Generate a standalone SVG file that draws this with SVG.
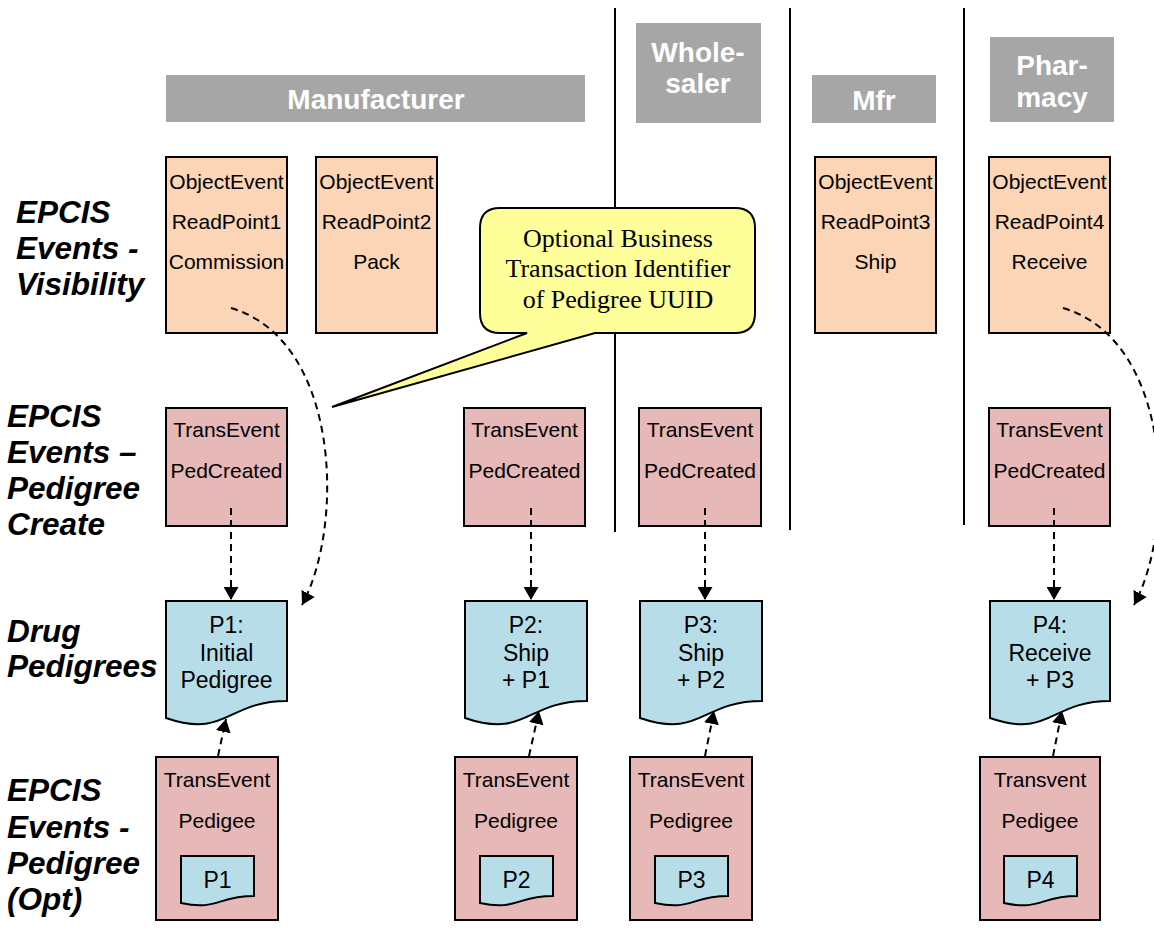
<svg xmlns="http://www.w3.org/2000/svg" width="1154" height="933" viewBox="0 0 1154 933">
<style>
.hdr{fill:#A6A6A6}
.ht{font-family:"Liberation Sans",Arial,sans-serif;font-weight:bold;font-size:28px;fill:#fff;text-anchor:middle}
.lbl{font-family:"Liberation Sans",Arial,sans-serif;font-weight:bold;font-style:italic;font-size:31.5px;fill:#000}
.obj{fill:#FBD5B5;stroke:#000;stroke-width:2}
.tr{fill:#E6B8B7;stroke:#000;stroke-width:2}
.doc{fill:#B7DEE8;stroke:#000;stroke-width:2}
.t{font-family:"Liberation Sans",Arial,sans-serif;font-size:21px;fill:#000;text-anchor:middle}
.dt{font-family:"Liberation Sans",Arial,sans-serif;font-size:23px;fill:#000;text-anchor:middle}
.sep{stroke:#000;stroke-width:2}
.con{fill:none;stroke:#000;stroke-width:2;stroke-dasharray:7,5}
.ct{font-family:"Liberation Serif","Times New Roman",serif;font-size:26px;fill:#000;text-anchor:middle}
</style>
<defs>
<marker id="ah" markerUnits="userSpaceOnUse" viewBox="0 0 13 15" markerWidth="13" markerHeight="15" refX="13" refY="7.5" orient="auto">
<path d="M0,0 L13,7.5 L0,15 Z" fill="#000"/>
</marker>
</defs>
<rect width="1154" height="933" fill="#fff"/>

<g id="separators">
<line class="sep" x1="615" y1="8" x2="615" y2="532"/>
<line class="sep" x1="790" y1="8" x2="790" y2="530"/>
<line class="sep" x1="964" y1="8" x2="964" y2="525"/>
</g>

<g id="headers">
<g id="hdr-manufacturer"><rect class="hdr" x="166" y="75" width="419" height="47"/><text class="ht" x="376" y="109">Manufacturer</text></g>
<g id="hdr-wholesaler"><rect class="hdr" x="636" y="23" width="125" height="100"/><text class="ht" x="698" y="62">Whole-</text><text class="ht" x="698" y="93">saler</text></g>
<g id="hdr-mfr"><rect class="hdr" x="812" y="75" width="124" height="48"/><text class="ht" x="874" y="110">Mfr</text></g>
<g id="hdr-pharmacy"><rect class="hdr" x="990" y="37" width="124" height="85"/><text class="ht" x="1052" y="75">Phar-</text><text class="ht" x="1052" y="107">macy</text></g>
</g>

<g id="row-labels">
<text class="lbl" x="16" y="223">EPCIS</text>
<text class="lbl" x="16" y="259">Events -</text>
<text class="lbl" x="16" y="295">Visibility</text>
<text class="lbl" x="7" y="427">EPCIS</text>
<text class="lbl" x="7" y="463">Events –</text>
<text class="lbl" x="7" y="499">Pedigree</text>
<text class="lbl" x="7" y="535">Create</text>
<text class="lbl" x="7" y="642">Drug</text>
<text class="lbl" x="7" y="677">Pedigrees</text>
<text class="lbl" x="7" y="801">EPCIS</text>
<text class="lbl" x="7" y="838">Events -</text>
<text class="lbl" x="7" y="874">Pedigree</text>
<text class="lbl" x="7" y="910">(Opt)</text>
</g>

<g id="obj1"><rect class="obj" x="166" y="157" width="121" height="176"/><text class="t" x="226.5" y="189">ObjectEvent</text><text class="t" x="226.5" y="229">ReadPoint1</text><text class="t" x="226.5" y="269">Commission</text></g>
<g id="obj2"><rect class="obj" x="316" y="157" width="121" height="176"/><text class="t" x="376.5" y="189">ObjectEvent</text><text class="t" x="376.5" y="229">ReadPoint2</text><text class="t" x="376.5" y="269">Pack</text></g>
<g id="obj3"><rect class="obj" x="815" y="157" width="121" height="176"/><text class="t" x="875.5" y="189">ObjectEvent</text><text class="t" x="875.5" y="229">ReadPoint3</text><text class="t" x="875.5" y="269">Ship</text></g>
<g id="obj4"><rect class="obj" x="989" y="157" width="121" height="176"/><text class="t" x="1049.5" y="189">ObjectEvent</text><text class="t" x="1049.5" y="229">ReadPoint4</text><text class="t" x="1049.5" y="269">Receive</text></g>

<g id="ped1"><rect class="tr" x="166" y="408" width="121" height="118"/><text class="t" x="226.5" y="437">TransEvent</text><text class="t" x="226.5" y="478">PedCreated</text></g>
<g id="ped2"><rect class="tr" x="464" y="408" width="121" height="118"/><text class="t" x="524.5" y="437">TransEvent</text><text class="t" x="524.5" y="478">PedCreated</text></g>
<g id="ped3"><rect class="tr" x="639" y="408" width="122" height="118"/><text class="t" x="700" y="437">TransEvent</text><text class="t" x="700" y="478">PedCreated</text></g>
<g id="ped4"><rect class="tr" x="989" y="408" width="121" height="118"/><text class="t" x="1049.5" y="437">TransEvent</text><text class="t" x="1049.5" y="478">PedCreated</text></g>

<g id="doc1"><path class="doc" d="M166,601 H287 V701 C226.5,701 226.5,739 166,718 Z"/><text class="dt" x="226.5" y="633">P1:</text><text class="dt" x="226.5" y="661">Initial</text><text class="dt" x="226.5" y="688">Pedigree</text></g>
<g id="doc2"><path class="doc" d="M465,601 H587 V701 C526,701 526,739 465,718 Z"/><text class="dt" x="526" y="633">P2:</text><text class="dt" x="526" y="661">Ship</text><text class="dt" x="526" y="688">+ P1</text></g>
<g id="doc3"><path class="doc" d="M640,601 H762 V701 C701,701 701,739 640,718 Z"/><text class="dt" x="701" y="633">P3:</text><text class="dt" x="701" y="661">Ship</text><text class="dt" x="701" y="688">+ P2</text></g>
<g id="doc4"><path class="doc" d="M990,601 H1110 V701 C1050,701 1050,739 990,718 Z"/><text class="dt" x="1050" y="633">P4:</text><text class="dt" x="1050" y="661">Receive</text><text class="dt" x="1050" y="688">+ P3</text></g>

<g id="opt1"><rect class="tr" x="156" y="757" width="122" height="163"/><text class="t" x="217" y="787">TransEvent</text><text class="t" x="217" y="828">Pedigee</text><path class="doc" d="M181,856 H254 V896 C217.5,896 217.5,911 181,903 Z"/><text class="dt" x="217.5" y="888">P1</text></g>
<g id="opt2"><rect class="tr" x="455" y="757" width="122" height="163"/><text class="t" x="516" y="787">TransEvent</text><text class="t" x="516" y="828">Pedigree</text><path class="doc" d="M480,856 H553 V896 C516.5,896 516.5,911 480,903 Z"/><text class="dt" x="516.5" y="888">P2</text></g>
<g id="opt3"><rect class="tr" x="630" y="757" width="122" height="163"/><text class="t" x="691" y="787">TransEvent</text><text class="t" x="691" y="828">Pedigree</text><path class="doc" d="M655,856 H728 V896 C691.5,896 691.5,911 655,903 Z"/><text class="dt" x="691.5" y="888">P3</text></g>
<g id="opt4"><rect class="tr" x="980" y="757" width="120" height="163"/><text class="t" x="1040" y="787">Transvent</text><text class="t" x="1040" y="828">Pedigee</text><path class="doc" d="M1004,856 H1077 V896 C1040.5,896 1040.5,911 1004,903 Z"/><text class="dt" x="1040.5" y="888">P4</text></g>

<g id="connectors">
<path class="con" d="M231,308 C340,340 345,525 302,605" marker-end="url(#ah)"/>
<path class="con" d="M1063,308 C1172,340 1177,525 1134,605" marker-end="url(#ah)"/>
<path class="con" d="M231,508 V600" marker-end="url(#ah)"/>
<path class="con" d="M531,508 V600" marker-end="url(#ah)"/>
<path class="con" d="M705,508 V600" marker-end="url(#ah)"/>
<path class="con" d="M1054,508 V600" marker-end="url(#ah)"/>
<path class="con" d="M218,756 L226,719" marker-end="url(#ah)"/>
<path class="con" d="M529,756 L539,711" marker-end="url(#ah)"/>
<path class="con" d="M705,756 L714,711" marker-end="url(#ah)"/>
<path class="con" d="M1053,756 L1062,711" marker-end="url(#ah)"/>
</g>

<g id="callout">
<path d="M500,208 H735 Q755,208 755,228 V313 Q755,333 735,333 H595 L332,407 L527,333 H500 Q480,333 480,313 V228 Q480,208 500,208 Z" fill="#FFFF99" stroke="#000" stroke-width="2"/>
<text class="ct" x="618" y="247">Optional Business</text>
<text class="ct" x="618" y="277">Transaction Identifier</text>
<text class="ct" x="618" y="308">of Pedigree UUID</text>
</g>
</svg>
